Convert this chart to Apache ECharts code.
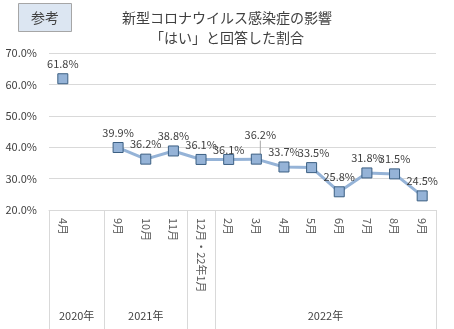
<!DOCTYPE html>
<html>
<head>
<meta charset="utf-8">
<script src="https://cdn.jsdelivr.net/npm/echarts@6/dist/echarts.min.js"></script>
<style>html,body{margin:0;padding:0;background:#fff;}#c{width:454px;height:329px;}</style>
</head>
<body>
<div id="c"></div>
<script>
// ---- data ----
var monthLabels = ['4月', '', '9月', '10月', '11月', '12月・22年1月', '2月', '3月', '4月', '5月', '6月', '7月', '8月', '9月'];
var shareYes = [61.8, null, 39.9, 36.2, 38.8, 36.1, 36.1, 36.2, 33.7, 33.5, 25.8, 31.8, 31.5, 24.5];
var yearNames = ['2020年', '2021年', '', '2022年'];
var yearSizes = [2, 3, 1, 8];
var yTicks = [20, 30, 40, 50, 60, 70];

// ---- derived: half-step axis for year groups ----
var halfCount = monthLabels.length * 2 + 1;
var halfLabels = [];
for (var i = 0; i < halfCount; i++) halfLabels.push('');
var boundaryIdx = {};
var start = 0;
for (var g = 0; g < yearNames.length; g++) {
  boundaryIdx[start * 2] = true;
  halfLabels[start * 2 + yearSizes[g]] = yearNames[g];
  start += yearSizes[g];
  boundaryIdx[start * 2] = true;
}

var FONT = 'Noto Sans CJK JP';
var labelTweaks = {
  6: {dy: 5},
  7: {dx: 4, dy: -9},
  9: {dx: 2, dy: 0}
};

var seriesData = shareYes.map(function (v, i) {
  var item = {value: v};
  if (i === 7) item.labelLine = {show: true, lineStyle: {color: '#a6a6a6', width: 1}};
  return item;
});

var chart = echarts.init(document.getElementById('c'));
chart.setOption({
  backgroundColor: '#ffffff',
  animation: false,
  textStyle: {fontFamily: FONT},
  title: [{
    text: '新型コロナウイルス感染症の影響\n「はい」と回答した割合',
    left: 'center',
    top: 3,
    textStyle: {fontFamily: FONT, fontSize: 14, fontWeight: 'normal', color: '#404040', lineHeight: 20}
  }, {
    text: '参考',
    left: 18,
    top: 3,
    padding: [6, 13, 6, 13],
    backgroundColor: '#dce6f2',
    borderColor: '#a6a6a6',
    borderWidth: 1,
    textStyle: {fontFamily: FONT, fontSize: 14, fontWeight: 'normal', color: '#404040', lineHeight: 17}
  }],
  grid: {left: 49, right: 18, top: 53, bottom: 119, containLabel: false},
  xAxis: [{
    type: 'category',
    data: monthLabels,
    boundaryGap: true,
    axisLine: {show: true, lineStyle: {color: '#d9d9d9'}},
    axisTick: {show: false},
    axisLabel: {
      interval: 0,
      rotate: -90,
      margin: 8,
      fontSize: 11,
      color: '#595959',
      fontFamily: FONT
    }
  }, {
    type: 'category',
    data: halfLabels,
    boundaryGap: false,
    position: 'bottom',
    offset: 0,
    axisLine: {show: false},
    axisTick: {
      show: true,
      length: 125,
      interval: function (idx) { return !!boundaryIdx[idx]; },
      lineStyle: {color: '#d9d9d9', width: 1}
    },
    axisLabel: {
      interval: 0,
      margin: 100,
      fontSize: 11,
      color: '#404040',
      fontFamily: FONT
    },
    splitLine: {show: false}
  }],
  yAxis: {
    type: 'value',
    min: yTicks[0],
    max: yTicks[yTicks.length - 1],
    interval: 10,
    axisLine: {show: false},
    axisTick: {show: false},
    splitLine: {lineStyle: {color: '#d9d9d9'}},
    axisLabel: {
      margin: 12,
      fontSize: 11,
      color: '#404040',
      fontFamily: FONT,
      formatter: function (v) { return v.toFixed(1) + '%'; }
    }
  },
  series: [{
    type: 'line',
    xAxisIndex: 0,
    data: seriesData,
    connectNulls: false,
    symbol: 'rect',
    symbolSize: 10,
    itemStyle: {color: '#95b3d7', borderColor: '#3b5f82', borderWidth: 1},
    lineStyle: {color: '#95b3d7', width: 3},
    label: {
      show: true,
      position: 'top',
      distance: 4,
      fontSize: 11,
      color: '#404040',
      fontFamily: FONT,
      formatter: function (p) { return p.value.toFixed(1) + '%'; }
    },
    labelLayout: function (p) {
      return labelTweaks[p.dataIndex] || {};
    }
  }]
});
</script>
</body>
</html>
